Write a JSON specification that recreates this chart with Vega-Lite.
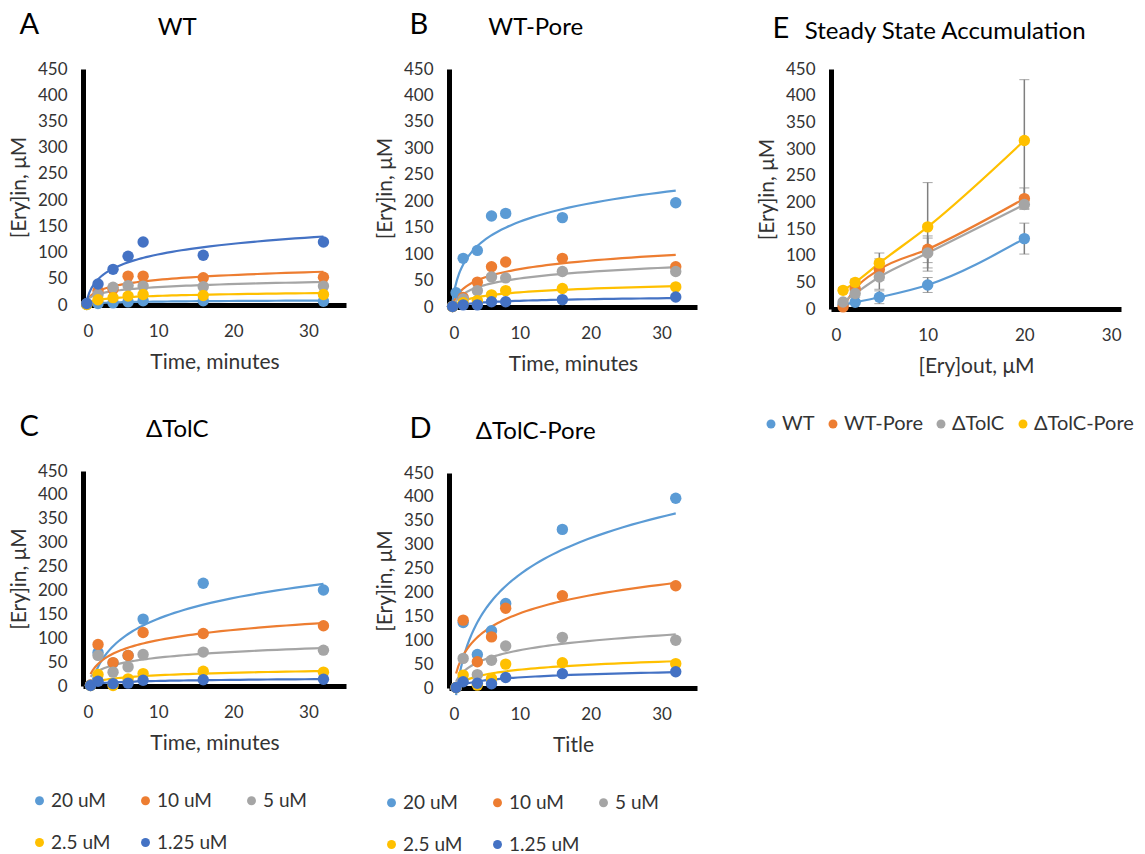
{
  "$schema": "https://vega.github.io/schema/vega-lite/v6.json",
  "background": "white",
  "padding": {"left": 8, "top": 11, "right": 5, "bottom": 2},
  "config": {
    "font": "Lato",
    "view": {"stroke": null},
    "axis": {"grid": false, "ticks": false, "labelOverlap": false, "domainColor": "#000000", "domainWidth": 5, "labelFontSize": 17, "labelColor": "#333333", "titleFontSize": 21, "titleFontWeight": "normal", "titleColor": "#333333", "labelPadding": 16, "titlePadding": 8},
    "axisX": {"labelPadding": 18, "titlePadding": 12},
    "title": {"fontSize": 24, "fontWeight": "normal", "color": "#000000", "anchor": "middle", "frame": "bounds", "offset": 20},
    "legend": {"labelFontSize": 19, "labelColor": "#333333"}
  },
  "datasets": {
    "kin": [
      {"panel":"A","conc":"20 uM","t":0.5,"y":1},{"panel":"A","conc":"20 uM","t":2,"y":3},{"panel":"A","conc":"20 uM","t":4,"y":4},{"panel":"A","conc":"20 uM","t":6,"y":6},{"panel":"A","conc":"20 uM","t":8,"y":8},{"panel":"A","conc":"20 uM","t":16,"y":8},{"panel":"A","conc":"20 uM","t":32,"y":7},
      {"panel":"A","conc":"10 uM","t":0.5,"y":2},{"panel":"A","conc":"10 uM","t":2,"y":27},{"panel":"A","conc":"10 uM","t":4,"y":30},{"panel":"A","conc":"10 uM","t":6,"y":55},{"panel":"A","conc":"10 uM","t":8,"y":55},{"panel":"A","conc":"10 uM","t":16,"y":52},{"panel":"A","conc":"10 uM","t":32,"y":53},
      {"panel":"A","conc":"5 uM","t":0.5,"y":2},{"panel":"A","conc":"5 uM","t":2,"y":20},{"panel":"A","conc":"5 uM","t":4,"y":34},{"panel":"A","conc":"5 uM","t":6,"y":37},{"panel":"A","conc":"5 uM","t":8,"y":36},{"panel":"A","conc":"5 uM","t":16,"y":35},{"panel":"A","conc":"5 uM","t":32,"y":36},
      {"panel":"A","conc":"2.5 uM","t":0.5,"y":1},{"panel":"A","conc":"2.5 uM","t":2,"y":10},{"panel":"A","conc":"2.5 uM","t":4,"y":14},{"panel":"A","conc":"2.5 uM","t":6,"y":17},{"panel":"A","conc":"2.5 uM","t":8,"y":20},{"panel":"A","conc":"2.5 uM","t":16,"y":18},{"panel":"A","conc":"2.5 uM","t":32,"y":20},
      {"panel":"A","conc":"1.25 uM","t":0.5,"y":3},{"panel":"A","conc":"1.25 uM","t":2,"y":40},{"panel":"A","conc":"1.25 uM","t":4,"y":68},{"panel":"A","conc":"1.25 uM","t":6,"y":93},{"panel":"A","conc":"1.25 uM","t":8,"y":120},{"panel":"A","conc":"1.25 uM","t":16,"y":95},{"panel":"A","conc":"1.25 uM","t":32,"y":120},

      {"panel":"B","conc":"20 uM","t":0.5,"y":1},{"panel":"B","conc":"20 uM","t":1,"y":27},{"panel":"B","conc":"20 uM","t":2,"y":92},{"panel":"B","conc":"20 uM","t":4,"y":107},{"panel":"B","conc":"20 uM","t":6,"y":172},{"panel":"B","conc":"20 uM","t":8,"y":177},{"panel":"B","conc":"20 uM","t":16,"y":169},{"panel":"B","conc":"20 uM","t":32,"y":197},
      {"panel":"B","conc":"10 uM","t":0.5,"y":1},{"panel":"B","conc":"10 uM","t":2,"y":18},{"panel":"B","conc":"10 uM","t":4,"y":47},{"panel":"B","conc":"10 uM","t":6,"y":76},{"panel":"B","conc":"10 uM","t":8,"y":85},{"panel":"B","conc":"10 uM","t":16,"y":92},{"panel":"B","conc":"10 uM","t":32,"y":76},
      {"panel":"B","conc":"5 uM","t":0.5,"y":1},{"panel":"B","conc":"5 uM","t":2,"y":15},{"panel":"B","conc":"5 uM","t":4,"y":31},{"panel":"B","conc":"5 uM","t":6,"y":57},{"panel":"B","conc":"5 uM","t":8,"y":55},{"panel":"B","conc":"5 uM","t":16,"y":67},{"panel":"B","conc":"5 uM","t":32,"y":67},
      {"panel":"B","conc":"2.5 uM","t":0.5,"y":1},{"panel":"B","conc":"2.5 uM","t":2,"y":8},{"panel":"B","conc":"2.5 uM","t":4,"y":12},{"panel":"B","conc":"2.5 uM","t":6,"y":23},{"panel":"B","conc":"2.5 uM","t":8,"y":31},{"panel":"B","conc":"2.5 uM","t":16,"y":35},{"panel":"B","conc":"2.5 uM","t":32,"y":38},
      {"panel":"B","conc":"1.25 uM","t":0.5,"y":1},{"panel":"B","conc":"1.25 uM","t":2,"y":4},{"panel":"B","conc":"1.25 uM","t":4,"y":4},{"panel":"B","conc":"1.25 uM","t":6,"y":10},{"panel":"B","conc":"1.25 uM","t":8,"y":10},{"panel":"B","conc":"1.25 uM","t":16,"y":14},{"panel":"B","conc":"1.25 uM","t":32,"y":19},

      {"panel":"C","conc":"20 uM","t":1,"y":1},{"panel":"C","conc":"20 uM","t":2,"y":70},{"panel":"C","conc":"20 uM","t":4,"y":48},{"panel":"C","conc":"20 uM","t":6,"y":64},{"panel":"C","conc":"20 uM","t":8,"y":140},{"panel":"C","conc":"20 uM","t":16,"y":215},{"panel":"C","conc":"20 uM","t":32,"y":201},
      {"panel":"C","conc":"10 uM","t":1,"y":2},{"panel":"C","conc":"10 uM","t":2,"y":87},{"panel":"C","conc":"10 uM","t":4,"y":49},{"panel":"C","conc":"10 uM","t":6,"y":64},{"panel":"C","conc":"10 uM","t":8,"y":112},{"panel":"C","conc":"10 uM","t":16,"y":110},{"panel":"C","conc":"10 uM","t":32,"y":126},
      {"panel":"C","conc":"5 uM","t":1,"y":2},{"panel":"C","conc":"5 uM","t":2,"y":64},{"panel":"C","conc":"5 uM","t":4,"y":29},{"panel":"C","conc":"5 uM","t":6,"y":40},{"panel":"C","conc":"5 uM","t":8,"y":66},{"panel":"C","conc":"5 uM","t":16,"y":71},{"panel":"C","conc":"5 uM","t":32,"y":75},
      {"panel":"C","conc":"2.5 uM","t":1,"y":1},{"panel":"C","conc":"2.5 uM","t":2,"y":24},{"panel":"C","conc":"2.5 uM","t":4,"y":1},{"panel":"C","conc":"2.5 uM","t":6,"y":15},{"panel":"C","conc":"2.5 uM","t":8,"y":26},{"panel":"C","conc":"2.5 uM","t":16,"y":31},{"panel":"C","conc":"2.5 uM","t":32,"y":29},
      {"panel":"C","conc":"1.25 uM","t":1,"y":1},{"panel":"C","conc":"1.25 uM","t":2,"y":10},{"panel":"C","conc":"1.25 uM","t":4,"y":5},{"panel":"C","conc":"1.25 uM","t":6,"y":6},{"panel":"C","conc":"1.25 uM","t":8,"y":12},{"panel":"C","conc":"1.25 uM","t":16,"y":13},{"panel":"C","conc":"1.25 uM","t":32,"y":14},

      {"panel":"D","conc":"20 uM","t":1,"y":1},{"panel":"D","conc":"20 uM","t":2,"y":137},{"panel":"D","conc":"20 uM","t":4,"y":70},{"panel":"D","conc":"20 uM","t":6,"y":120},{"panel":"D","conc":"20 uM","t":8,"y":177},{"panel":"D","conc":"20 uM","t":16,"y":332},{"panel":"D","conc":"20 uM","t":32,"y":397},
      {"panel":"D","conc":"10 uM","t":1,"y":1},{"panel":"D","conc":"10 uM","t":2,"y":142},{"panel":"D","conc":"10 uM","t":4,"y":55},{"panel":"D","conc":"10 uM","t":6,"y":107},{"panel":"D","conc":"10 uM","t":8,"y":167},{"panel":"D","conc":"10 uM","t":16,"y":193},{"panel":"D","conc":"10 uM","t":32,"y":214},
      {"panel":"D","conc":"5 uM","t":1,"y":1},{"panel":"D","conc":"5 uM","t":2,"y":62},{"panel":"D","conc":"5 uM","t":4,"y":28},{"panel":"D","conc":"5 uM","t":6,"y":58},{"panel":"D","conc":"5 uM","t":8,"y":88},{"panel":"D","conc":"5 uM","t":16,"y":106},{"panel":"D","conc":"5 uM","t":32,"y":100},
      {"panel":"D","conc":"2.5 uM","t":1,"y":1},{"panel":"D","conc":"2.5 uM","t":2,"y":27},{"panel":"D","conc":"2.5 uM","t":4,"y":6},{"panel":"D","conc":"2.5 uM","t":6,"y":20},{"panel":"D","conc":"2.5 uM","t":8,"y":50},{"panel":"D","conc":"2.5 uM","t":16,"y":53},{"panel":"D","conc":"2.5 uM","t":32,"y":51},
      {"panel":"D","conc":"1.25 uM","t":1,"y":1},{"panel":"D","conc":"1.25 uM","t":2,"y":13},{"panel":"D","conc":"1.25 uM","t":4,"y":10},{"panel":"D","conc":"1.25 uM","t":6,"y":9},{"panel":"D","conc":"1.25 uM","t":8,"y":22},{"panel":"D","conc":"1.25 uM","t":16,"y":30},{"panel":"D","conc":"1.25 uM","t":32,"y":34}
    ],
    "ss": [
      {"strain":"WT","out":1.25,"in":8,"err":3},{"strain":"WT","out":2.5,"in":12.5,"err":4},{"strain":"WT","out":5,"in":22,"err":12},{"strain":"WT","out":10,"in":45,"err":14},{"strain":"WT","out":20,"in":132,"err":29},
      {"strain":"WT-Pore","out":1.25,"in":4,"err":3},{"strain":"WT-Pore","out":2.5,"in":38,"err":8},{"strain":"WT-Pore","out":5,"in":74,"err":20},{"strain":"WT-Pore","out":10,"in":112,"err":25},{"strain":"WT-Pore","out":20,"in":207,"err":20},
      {"strain":"ΔTolC","out":1.25,"in":13,"err":4},{"strain":"ΔTolC","out":2.5,"in":29,"err":7},{"strain":"ΔTolC","out":5,"in":60,"err":23},{"strain":"ΔTolC","out":10,"in":105,"err":28},{"strain":"ΔTolC","out":20,"in":196,"err":8},
      {"strain":"ΔTolC-Pore","out":1.25,"in":35,"err":5},{"strain":"ΔTolC-Pore","out":2.5,"in":50,"err":6},{"strain":"ΔTolC-Pore","out":5,"in":86,"err":19},{"strain":"ΔTolC-Pore","out":10,"in":154,"err":83},{"strain":"ΔTolC-Pore","out":20,"in":316,"err":114}
    ]
  },
  "spacing": 59,
  "resolve": {"scale": {"color": "independent", "stroke": "independent"}, "legend": {"color": "independent", "stroke": "independent"}},
  "hconcat": [
    {
      "spacing": 28,
      "resolve": {"scale": {"color": "independent", "stroke": "independent"}, "legend": {"color": "independent", "stroke": "independent"}},
      "hconcat": [
        {
          "spacing": 41,
          "resolve": {"scale": {"color": "independent", "stroke": "independent"}, "legend": {"color": "independent", "stroke": "independent"}},
          "vconcat": [
            {
              "title": {"text": "A", "fontSize": 29, "anchor": "start", "dx": 11, "dy": 24, "offset": 0},
              "resolve": {"scale": {"color": "independent", "stroke": "independent"}, "legend": {"color": "independent", "stroke": "independent"}},
              "vconcat": [
                {
                  "title": {"text": "WT"},
                  "width": 263, "height": 236,
                  "data": {"name": "kin"},
                  "transform": [{"filter": "datum.panel === 'A'"}],
                  "encoding": {
                    "x": {"field": "t", "type": "quantitative", "scale": {"domain": [0, 35], "nice": false}, "axis": {"values": [0, 10, 20, 30], "title": "Time, minutes"}},
                    "y": {"field": "y", "type": "quantitative", "scale": {"domain": [0, 450], "nice": false}, "axis": {"values": [0, 50, 100, 150, 200, 250, 300, 350, 400, 450], "title": "[Ery]in, μM"}}
                  },
                  "layer": [
                    {"transform": [{"regression": "y", "on": "t", "groupby": ["conc"], "method": "log"}],
                     "mark": {"type": "line", "strokeWidth": 2.2},
                     "encoding": {
                       "stroke": {"field": "conc", "type": "nominal", "scale": {"domain": ["1.25 uM", "10 uM", "2.5 uM", "20 uM", "5 uM"], "range": ["#4472C4", "#ED7D31", "#FFC000", "#5B9BD5", "#A5A5A5"]}, "legend": null}
                     }},
                    {"mark": {"type": "circle", "size": 130, "opacity": 1},
                     "encoding": {
                       "color": {"field": "conc", "type": "nominal", "scale": {"domain": ["20 uM", "10 uM", "5 uM", "2.5 uM", "1.25 uM"], "range": ["#5B9BD5", "#ED7D31", "#A5A5A5", "#FFC000", "#4472C4"]}, "legend": null}
                     }}
                  ]
                }
              ]
            },
            {
              "title": {"text": "C", "fontSize": 29, "anchor": "start", "dx": 11, "dy": 24, "offset": 0},
              "resolve": {"scale": {"color": "independent", "stroke": "independent"}, "legend": {"color": "independent", "stroke": "independent"}},
              "vconcat": [
                {
                  "title": {"text": "ΔTolC"},
                  "width": 263, "height": 215,
                  "data": {"name": "kin"},
                  "transform": [{"filter": "datum.panel === 'C'"}],
                  "encoding": {
                    "x": {"field": "t", "type": "quantitative", "scale": {"domain": [0, 35], "nice": false}, "axis": {"values": [0, 10, 20, 30], "title": "Time, minutes"}},
                    "y": {"field": "y", "type": "quantitative", "scale": {"domain": [0, 450], "nice": false}, "axis": {"values": [0, 50, 100, 150, 200, 250, 300, 350, 400, 450], "title": "[Ery]in, μM"}}
                  },
                  "layer": [
                    {"transform": [{"regression": "y", "on": "t", "groupby": ["conc"], "method": "log"}],
                     "mark": {"type": "line", "strokeWidth": 2.2},
                     "encoding": {
                       "stroke": {"field": "conc", "type": "nominal", "scale": {"domain": ["1.25 uM", "10 uM", "2.5 uM", "20 uM", "5 uM"], "range": ["#4472C4", "#ED7D31", "#FFC000", "#5B9BD5", "#A5A5A5"]}, "legend": null}
                     }},
                    {"mark": {"type": "circle", "size": 130, "opacity": 1},
                     "encoding": {
                       "color": {"field": "conc", "type": "nominal", "scale": {"domain": ["20 uM", "10 uM", "5 uM", "2.5 uM", "1.25 uM"], "range": ["#5B9BD5", "#ED7D31", "#A5A5A5", "#FFC000", "#4472C4"]},
                         "legend": {"orient": "none", "legendX": -53, "legendY": 320, "direction": "horizontal", "columns": 3, "title": null, "symbolType": "circle", "symbolSize": 80, "gridAlign": "all", "columnPadding": 14, "rowPadding": 22, "labelOffset": 2}}
                     }}
                  ]
                }
              ]
            }
          ]
        },
        {
          "spacing": 41,
          "resolve": {"scale": {"color": "independent", "stroke": "independent"}, "legend": {"color": "independent", "stroke": "independent"}},
          "vconcat": [
            {
              "title": {"text": "B", "fontSize": 29, "anchor": "start", "dx": 35, "dy": 24, "offset": 0},
              "resolve": {"scale": {"color": "independent", "stroke": "independent"}, "legend": {"color": "independent", "stroke": "independent"}},
              "vconcat": [
                {
                  "title": {"text": "WT-Pore"},
                  "width": 248, "height": 238,
                  "data": {"name": "kin"},
                  "transform": [{"filter": "datum.panel === 'B'"}],
                  "encoding": {
                    "x": {"field": "t", "type": "quantitative", "scale": {"domain": [0, 35], "nice": false}, "axis": {"values": [0, 10, 20, 30], "title": "Time, minutes"}},
                    "y": {"field": "y", "type": "quantitative", "scale": {"domain": [0, 450], "nice": false}, "axis": {"values": [0, 50, 100, 150, 200, 250, 300, 350, 400, 450], "title": "[Ery]in, μM"}}
                  },
                  "layer": [
                    {"transform": [{"regression": "y", "on": "t", "groupby": ["conc"], "method": "log"}],
                     "mark": {"type": "line", "strokeWidth": 2.2},
                     "encoding": {
                       "stroke": {"field": "conc", "type": "nominal", "scale": {"domain": ["1.25 uM", "10 uM", "2.5 uM", "20 uM", "5 uM"], "range": ["#4472C4", "#ED7D31", "#FFC000", "#5B9BD5", "#A5A5A5"]}, "legend": null}
                     }},
                    {"mark": {"type": "circle", "size": 130, "opacity": 1},
                     "encoding": {
                       "color": {"field": "conc", "type": "nominal", "scale": {"domain": ["20 uM", "10 uM", "5 uM", "2.5 uM", "1.25 uM"], "range": ["#5B9BD5", "#ED7D31", "#A5A5A5", "#FFC000", "#4472C4"]}, "legend": null}
                     }}
                  ]
                }
              ]
            },
            {
              "title": {"text": "D", "fontSize": 29, "anchor": "start", "dx": 35, "dy": 24, "offset": 0},
              "resolve": {"scale": {"color": "independent", "stroke": "independent"}, "legend": {"color": "independent", "stroke": "independent"}},
              "vconcat": [
                {
                  "title": {"text": "ΔTolC-Pore"},
                  "width": 248, "height": 215,
                  "data": {"name": "kin"},
                  "transform": [{"filter": "datum.panel === 'D'"}],
                  "encoding": {
                    "x": {"field": "t", "type": "quantitative", "scale": {"domain": [0, 35], "nice": false}, "axis": {"values": [0, 10, 20, 30], "title": "Title"}},
                    "y": {"field": "y", "type": "quantitative", "scale": {"domain": [0, 450], "nice": false}, "axis": {"values": [0, 50, 100, 150, 200, 250, 300, 350, 400, 450], "title": "[Ery]in, μM"}}
                  },
                  "layer": [
                    {"transform": [{"regression": "y", "on": "t", "groupby": ["conc"], "method": "log"}],
                     "mark": {"type": "line", "strokeWidth": 2.2},
                     "encoding": {
                       "stroke": {"field": "conc", "type": "nominal", "scale": {"domain": ["1.25 uM", "10 uM", "2.5 uM", "20 uM", "5 uM"], "range": ["#4472C4", "#ED7D31", "#FFC000", "#5B9BD5", "#A5A5A5"]}, "legend": null}
                     }},
                    {"mark": {"type": "circle", "size": 130, "opacity": 1},
                     "encoding": {
                       "color": {"field": "conc", "type": "nominal", "scale": {"domain": ["20 uM", "10 uM", "5 uM", "2.5 uM", "1.25 uM"], "range": ["#5B9BD5", "#ED7D31", "#A5A5A5", "#FFC000", "#4472C4"]},
                         "legend": {"orient": "none", "legendX": -67, "legendY": 320, "direction": "horizontal", "columns": 3, "title": null, "symbolType": "circle", "symbolSize": 80, "gridAlign": "all", "columnPadding": 14, "rowPadding": 22, "labelOffset": 2}}
                     }}
                  ]
                }
              ]
            }
          ]
        }
      ]
    },
    {
      "title": {"text": "E", "fontSize": 29, "anchor": "start", "dx": 16, "dy": 24, "offset": 0},
      "resolve": {"scale": {"color": "independent", "stroke": "independent"}, "legend": {"color": "independent", "stroke": "independent"}},
      "vconcat": [
        {
          "title": {"text": "Steady State Accumulation", "offset": 16},
          "width": 290, "height": 240,
          "data": {"name": "ss"},
          "encoding": {
            "x": {"field": "out", "type": "quantitative", "scale": {"domain": [0, 30], "nice": false}, "axis": {"values": [0, 10, 20, 30], "title": "[Ery]out, μM"}},
            "y": {"field": "in", "type": "quantitative", "scale": {"domain": [0, 450], "nice": false}, "axis": {"values": [0, 50, 100, 150, 200, 250, 300, 350, 400, 450], "title": "[Ery]in, μM"}}
          },
          "layer": [
            {"mark": {"type": "errorbar", "ticks": {"size": 10, "color": "#7F7F7F", "strokeWidth": 1.5}, "rule": {"color": "#7F7F7F", "strokeWidth": 1.5}},
             "encoding": {"yError": {"field": "err"}}},
            {"mark": {"type": "line", "strokeWidth": 2.2, "interpolate": "monotone"},
             "encoding": {
               "stroke": {"field": "strain", "type": "nominal", "scale": {"domain": ["ΔTolC", "ΔTolC-Pore", "WT", "WT-Pore"], "range": ["#A5A5A5", "#FFC000", "#5B9BD5", "#ED7D31"]}, "legend": null}
             }},
            {"mark": {"type": "circle", "size": 130, "opacity": 1},
             "encoding": {
               "color": {"field": "strain", "type": "nominal", "scale": {"domain": ["WT", "WT-Pore", "ΔTolC", "ΔTolC-Pore"], "range": ["#5B9BD5", "#ED7D31", "#A5A5A5", "#FFC000"]},
                 "legend": {"orient": "none", "legendX": -70, "legendY": 345, "direction": "horizontal", "title": null, "symbolType": "circle", "symbolSize": 80, "labelFontSize": 20, "columnPadding": 8, "labelOffset": 1}}
             }}
          ]
        }
      ]
    }
  ]
}
